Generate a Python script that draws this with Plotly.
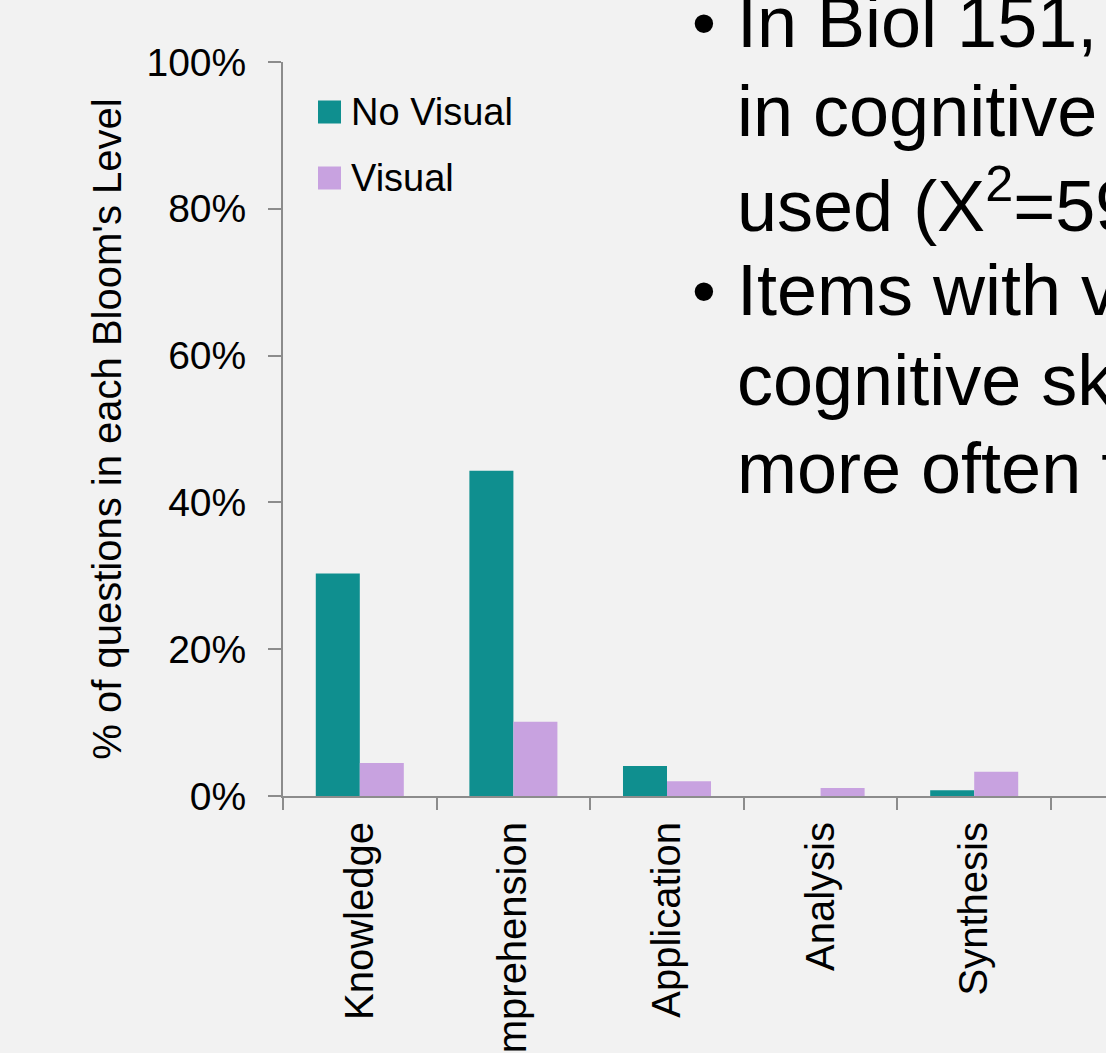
import plotly.graph_objects as go

categories = ["Knowledge", "Comprehension", "Application", "Analysis", "Synthesis"]
series_names = ["No Visual", "Visual"]
no_visual = [30.3, 44.3, 4.1, 0.0, 0.8]
visual = [4.5, 10.1, 2.0, 1.1, 3.3]
series_colors = ["#0F8F8F", "#C8A2E0"]
y_ticks = [0, 20, 40, 60, 80, 100]
y_tick_labels = [f"{v}%" for v in y_ticks]

bullet_lines = [
    ["In Biol 151, there was a difference",
     "in cognitive level when visuals were",
     "used (X<sup>2</sup>=59"],
    ["Items with visuals tested higher",
     "cognitive skills (Analysis and above)",
     "more often than items without"],
]

W, H = 1106, 1053
L, T, B = 283, 62, 257
plot_w = W - L
plot_h = H - T - B
cat_px = 153.6
x_max = (plot_w / cat_px) - 0.5

font_fam = "Liberation Sans, Arial, sans-serif"

fig = go.Figure()
for name, vals, col in zip(series_names, [no_visual, visual], series_colors):
    fig.add_trace(go.Bar(x=categories, y=vals, name=name, marker_color=col,
                         marker_line_width=0, showlegend=False))

def px_x(px):
    return (px - L) / plot_w

def px_y(py):
    return (H - B - py) / plot_h

shapes = []
annotations = []
# manual legend with large squares
leg_y = [112, 178]
for name, col, yc in zip(series_names, series_colors, leg_y):
    shapes.append(dict(type="rect", xref="paper", yref="paper",
                       x0=px_x(318), x1=px_x(341), y0=px_y(yc + 11.5), y1=px_y(yc - 11.5),
                       fillcolor=col, line_width=0))
    annotations.append(dict(text=name, xref="paper", yref="paper", x=px_x(349), y=px_y(yc),
                            xanchor="left", yanchor="middle", showarrow=False,
                            font=dict(size=38, color="#000000", family=font_fam)))

# bullet text
line_centers = [22, 111, 200, 290, 380, 468]
i = 0
for bl in bullet_lines:
    for j, ln in enumerate(bl):
        yc = line_centers[i]
        if j == 0:
            annotations.append(dict(text="•", xref="paper", yref="paper", x=px_x(690), y=px_y(yc),
                                    xanchor="left", yanchor="middle", showarrow=False,
                                    font=dict(size=68, color="#000000", family=font_fam)))
        annotations.append(dict(text=ln, xref="paper", yref="paper", x=px_x(735), y=px_y(yc),
                                xanchor="left", yanchor="middle", showarrow=False,
                                font=dict(size=72, color="#000000", family=font_fam)))
        i += 1

fig.update_layout(
    width=W, height=H,
    margin=dict(l=L, r=0, t=T, b=B, pad=0, autoexpand=False),
    paper_bgcolor="#F2F2F2", plot_bgcolor="#F2F2F2",
    barmode="group", bargap=0.427, bargroupgap=0,
    shapes=shapes, annotations=annotations,
    font=dict(family=font_fam, color="#000000"),
)
fig.update_xaxes(
    type="category", range=[-0.5, x_max], tickson="boundaries", automargin=False,
    ticks="outside", ticklen=12, tickwidth=2, tickcolor="#8C8C8C",
    showline=True, linecolor="#8C8C8C", linewidth=2,
    tickangle=-90, tickfont=dict(size=40, color="#000000", family=font_fam),
    showgrid=False, zeroline=False, ticklabelstandoff=8,
)
fig.update_yaxes(
    range=[0, 100], tickmode="array", tickvals=y_ticks, ticktext=y_tick_labels, automargin=False,
    ticks="outside", ticklen=13, tickwidth=2, tickcolor="#8C8C8C",
    showline=True, linecolor="#8C8C8C", linewidth=2,
    tickfont=dict(size=39, color="#000000", family=font_fam),
    showgrid=False, zeroline=False, ticklabelstandoff=14,
    title=dict(text="% of questions in each Bloom's Level", standoff=12,
               font=dict(size=40, color="#000000", family=font_fam)),
)

fig.write_html("out.html")
